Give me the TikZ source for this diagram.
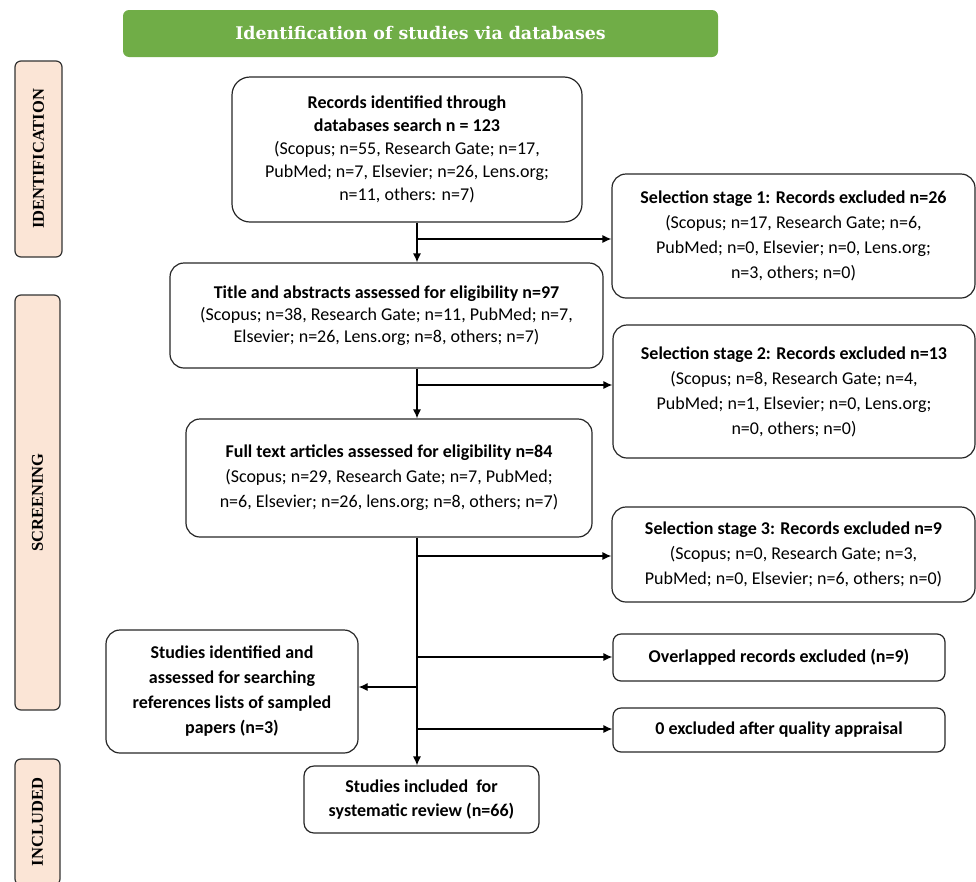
\documentclass[tikz,border=0pt]{standalone}
\usepackage{fontspec}
\setmainfont{Carlito}
\newfontfamily\capfont{Liberation Serif}
\newfontfamily\bannerfont{DejaVu Serif}
\usetikzlibrary{arrows.meta,positioning,calc}
\definecolor{bangreen}{HTML}{70AD47}
\definecolor{peach}{HTML}{FBE5D6}

\begin{document}
\begin{tikzpicture}[x=1pt, y=-1pt,
    box/.style={draw=black!85, line width=1.2pt, rounded corners=14pt, align=center,
        inner sep=0pt, font=\fontsize{18}{25}\selectfont},
    side/.style={draw=black!80, line width=1.2pt, fill=peach, rounded corners=6pt, rotate=90,
        inner sep=0pt, text=black, font=\capfont\bfseries\fontsize{16.5}{16.5}\selectfont},
    arr/.style={line width=1.2pt, -{Latex[length=9pt,width=8pt]}}]

   \useasboundingbox (0,0) rectangle (976,881);

   % banner and phase labels
   \node[fill=bangreen, rounded corners=6pt, minimum width=595, minimum height=47, text=white,
        font=\bannerfont\bfseries\fontsize{17.4}{17.4}\selectfont] (ban) at (420.5,33.5)
        {Identification of studies via databases};

   \node[side, minimum width=196, minimum height=47] (sid) at (38.5,159) {IDENTIFICATION};
   \node[side, minimum width=415, minimum height=45] (ssc) at (37.5,502.5) {SCREENING};
   \node[side, minimum width=126, minimum height=45] (sin) at (37.5,822) {INCLUDED};

   % main column
   \node[box, minimum width=350, minimum height=145, rounded corners=18pt,
        font=\fontsize{18}{23}\selectfont] (rec) at (407,149.5)
        {\textbf{Records identified through}\\ \textbf{databases search n = 123}\\
         (Scopus; n=55, Research Gate; n=17,\\ PubMed; n=7, Elsevier; n=26, Lens.org;\\
         n=11, others: n=7)};

   \node[box, minimum width=433, minimum height=105, font=\fontsize{18}{22}\selectfont] (tit) at (386.5,315.5)
        {\textbf{Title and abstracts assessed for eligibility n=97}\\
         (Scopus; n=38, Research Gate; n=11, PubMed; n=7,\\
         Elsevier; n=26, Lens.org; n=8, others; n=7)};

   \node[box, minimum width=406, minimum height=118] (full) at (389,478)
        {\textbf{Full text articles assessed for eligibility n=84}\\
         (Scopus; n=29, Research Gate; n=7, PubMed;\\
         n=6, Elsevier; n=26, lens.org; n=8, others; n=7)};

   \node[box, minimum width=252, minimum height=123] (ref) at (232,691.5)
        {\textbf{Studies identified and}\\ \textbf{assessed for searching}\\
         \textbf{references lists of sampled}\\ \textbf{papers (n=3)}};

   \node[box, minimum width=235, minimum height=67, rounded corners=10pt, font=\fontsize{18}{24}\selectfont] (inc) at (421.5,799.5)
        {\textbf{Studies included\ \ for}\\ \textbf{systematic review (n=66)}};

   % exclusions
   \node[box, minimum width=363, minimum height=124] (ex1) at (793.5,236)
        {\textbf{Selection stage 1: Records excluded n=26}\\
         (Scopus; n=17, Research Gate; n=6,\\ PubMed; n=0, Elsevier; n=0, Lens.org;\\
         n=3, others; n=0)};

   \node[box, minimum width=362, minimum height=133] (ex2) at (794,391.5)
        {\textbf{Selection stage 2: Records excluded n=13}\\
         (Scopus; n=8, Research Gate; n=4,\\ PubMed; n=1, Elsevier; n=0, Lens.org;\\
         n=0, others; n=0)};

   \node[box, minimum width=363, minimum height=95] (ex3) at (793.5,554.5)
        {\textbf{Selection stage 3: Records excluded n=9}\\
         (Scopus; n=0, Research Gate; n=3,\\ PubMed; n=0, Elsevier; n=6, others; n=0)};

   \node[box, minimum width=332, minimum height=47, rounded corners=8pt] (ovl) at (779,657.5)
        {\textbf{Overlapped records excluded (n=9)}};

   \node[box, minimum width=332, minimum height=44, rounded corners=8pt] (qual) at (779,730)
        {\textbf{0 excluded after quality appraisal}};

   % spine and branches
   \def\sx{417}
   \coordinate (b1) at (\sx,239);
   \coordinate (b2) at (\sx,385);
   \coordinate (b3) at (\sx,556);
   \coordinate (b4) at (\sx,657);
   \coordinate (b5) at (\sx,687);
   \coordinate (b6) at (\sx,729);

   \draw[arr] (rec.south -| b1) -- (tit.north -| b1);
   \draw[arr] (tit.south -| b2) -- (full.north -| b2);
   \draw[arr] (full.south -| b3) -- (inc.north -| b3);
   \foreach \c/\t in {b1/ex1, b2/ex2, b3/ex3, b4/ovl, b6/qual}
      \draw[arr] (\c) -- (\c -| \t.west);
   \draw[arr] (b5) -- (b5 -| ref.east);

\end{tikzpicture}
\end{document}
